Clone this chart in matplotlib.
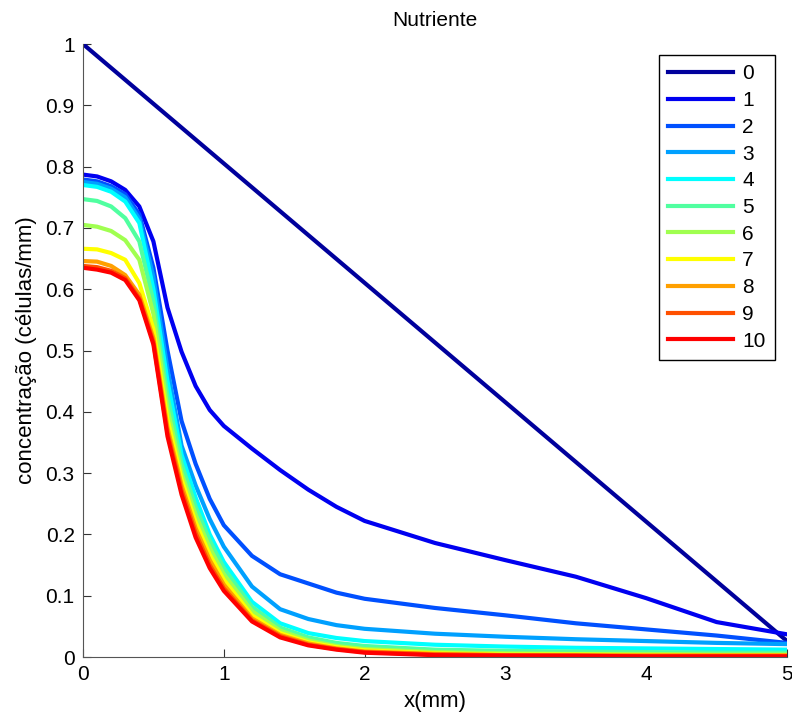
import matplotlib
matplotlib.use("Agg")
import matplotlib.pyplot as plt
import numpy as np

# x positions (mm) where the profiles were sampled
x_pts = [0, 0.1, 0.2, 0.3, 0.4, 0.5, 0.6, 0.7, 0.8, 0.9, 1.0, 1.2, 1.4,
         1.6, 1.8, 2.0, 2.5, 3.0, 3.5, 4.0, 4.5, 5.0]

# initial profile: straight line
x_t0 = [0, 5.0]
c_t0 = [1.0, 0.026]

c_t1 = [0.787, 0.784, 0.776, 0.762, 0.735, 0.678, 0.570, 0.498, 0.442, 0.403, 0.377,
        0.340, 0.305, 0.273, 0.245, 0.222, 0.186, 0.158, 0.131, 0.096, 0.057, 0.037]
c_t2 = [0.779, 0.776, 0.768, 0.755, 0.722, 0.635, 0.500, 0.385, 0.315, 0.258, 0.215,
        0.165, 0.135, 0.120, 0.105, 0.095, 0.080, 0.068, 0.055, 0.045, 0.035, 0.023]
c_t3 = [0.775, 0.772, 0.764, 0.750, 0.715, 0.620, 0.470, 0.345, 0.280, 0.225, 0.180,
        0.115, 0.078, 0.062, 0.052, 0.046, 0.038, 0.033, 0.029, 0.026, 0.023, 0.021]
c_t4 = [0.770, 0.767, 0.759, 0.743, 0.708, 0.600, 0.450, 0.330, 0.260, 0.200, 0.155,
        0.090, 0.055, 0.039, 0.031, 0.026, 0.020, 0.017, 0.015, 0.014, 0.013, 0.012]
c_t5 = [0.747, 0.744, 0.735, 0.716, 0.678, 0.580, 0.425, 0.315, 0.245, 0.190, 0.145,
        0.082, 0.048, 0.032, 0.023, 0.018, 0.012, 0.010, 0.009, 0.008, 0.007, 0.007]
c_t6 = [0.705, 0.702, 0.695, 0.680, 0.648, 0.560, 0.405, 0.300, 0.232, 0.178, 0.135,
        0.075, 0.043, 0.027, 0.018, 0.013, 0.008, 0.006, 0.005, 0.005, 0.004, 0.004]
c_t7 = [0.666, 0.665, 0.659, 0.648, 0.610, 0.535, 0.388, 0.290, 0.220, 0.167, 0.126,
        0.068, 0.039, 0.024, 0.016, 0.011, 0.006, 0.004, 0.004, 0.003, 0.003, 0.003]
c_t8 = [0.646, 0.645, 0.638, 0.623, 0.591, 0.520, 0.374, 0.280, 0.210, 0.158, 0.118,
        0.063, 0.036, 0.022, 0.014, 0.009, 0.005, 0.003, 0.003, 0.002, 0.002, 0.002]
c_t9 = [0.638, 0.636, 0.630, 0.618, 0.585, 0.514, 0.366, 0.272, 0.202, 0.150, 0.112,
        0.060, 0.034, 0.020, 0.013, 0.008, 0.004, 0.003, 0.002, 0.002, 0.002, 0.002]
c_t10 = [0.635, 0.632, 0.627, 0.615, 0.582, 0.510, 0.360, 0.265, 0.195, 0.145, 0.108,
         0.058, 0.032, 0.019, 0.012, 0.007, 0.003, 0.002, 0.002, 0.001, 0.001, 0.001]

labels = ["0", "1", "2", "3", "4", "5", "6", "7", "8", "9", "10"]
colors = ["#00009c", "#0000f0", "#0050ff", "#00a0ff", "#00ffff", "#50ffa0",
          "#a0ff50", "#ffff00", "#ffa000", "#ff5000", "#ff0000"]

plt.rcParams['font.family'] = ['Liberation Sans', 'DejaVu Sans']

fig = plt.figure(figsize=(7.92, 7.16), dpi=100)
ax = fig.add_axes([0.1048, 0.0824, 0.8889, 0.8561])

ax.plot(x_t0, c_t0, color=colors[0], lw=3, label=labels[0])
profiles = [c_t1, c_t2, c_t3, c_t4, c_t5, c_t6, c_t7, c_t8, c_t9, c_t10]
for i, prof in enumerate(profiles):
    ax.plot(x_pts, prof, color=colors[i + 1], lw=3, label=labels[i + 1])

ax.set_xlim(0, 5)
ax.set_ylim(0, 1)
ax.set_xticks([0, 1, 2, 3, 4, 5])
ax.set_yticks(np.arange(0, 1.01, 0.1))
ax.set_yticklabels(["0", "0.1", "0.2", "0.3", "0.4", "0.5", "0.6", "0.7", "0.8", "0.9", "1"])
ax.tick_params(direction='in', length=6, labelsize=15, color='#333333', pad=6)
ax.spines['top'].set_visible(False)
ax.spines['right'].set_visible(False)
for s in ['left', 'bottom']:
    ax.spines[s].set_color('#555555')

ax.set_title("Nutriente", fontsize=15, pad=13)
ax.set_xlabel("x(mm)", fontsize=16, labelpad=5)
ax.set_ylabel("concentração (células/mm)", fontsize=16, labelpad=6)

leg = ax.legend(loc='upper right', bbox_to_anchor=(0.983, 0.982), borderaxespad=0,
                fontsize=15, handlelength=3.1, labelspacing=0.37, fancybox=False,
                framealpha=1, borderpad=0.45, handletextpad=0.45)
leg.get_frame().set_edgecolor('black')
leg.get_frame().set_linewidth(1.0)

plt.savefig("out.png", dpi=100)
